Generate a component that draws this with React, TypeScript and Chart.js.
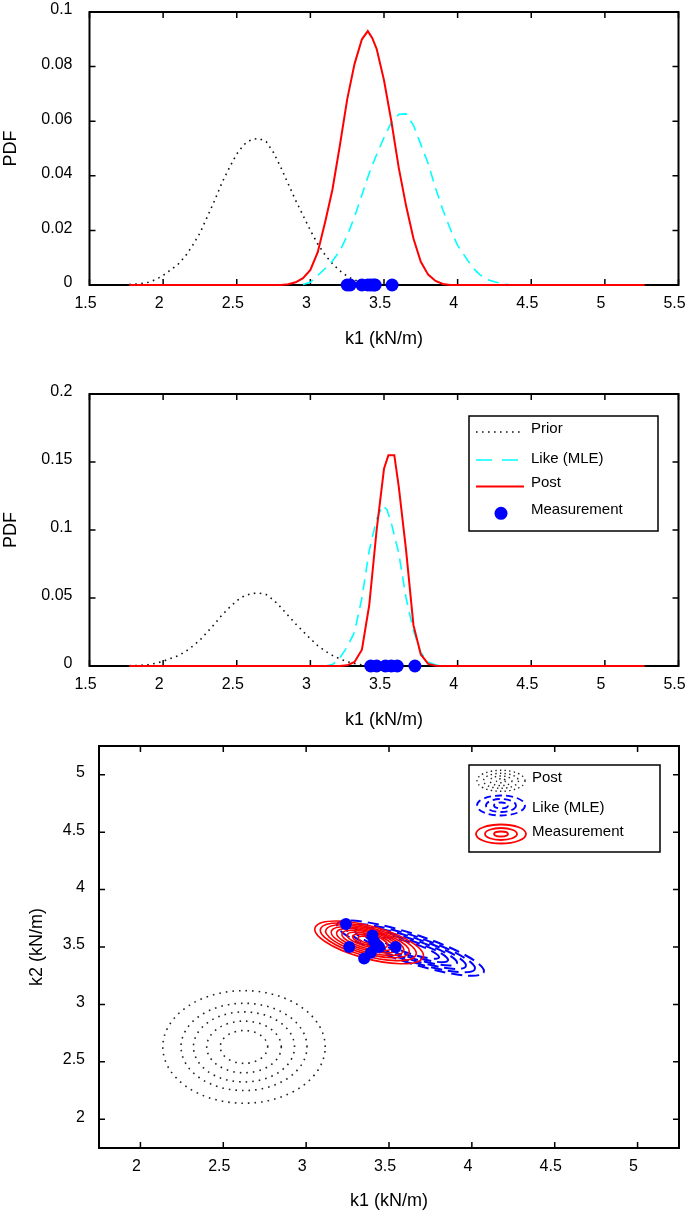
import React, { useEffect, useRef } from "react";
import { Chart, registerables } from "chart.js";
Chart.register(...registerables);

const FONT = "'Liberation Sans', Arial, Helvetica, sans-serif";

// ---------- data: 1-D PDFs (shared prior) ----------
const priorK1 = [1.77, 1.85, 1.9, 1.95, 2.0, 2.05, 2.1, 2.15, 2.2, 2.25, 2.3, 2.35, 2.4, 2.45, 2.5, 2.55, 2.6, 2.65, 2.7, 2.75, 2.8, 2.85, 2.9, 2.95, 3.0, 3.05, 3.1, 3.15, 3.2, 3.25, 3.3, 3.35, 3.4, 3.45, 3.5];
const priorPdf = [0.0002, 0.0005, 0.001, 0.002, 0.0035, 0.0055, 0.0075, 0.0105, 0.0145, 0.019, 0.025, 0.031, 0.0375, 0.043, 0.048, 0.0515, 0.0533, 0.0537, 0.0525, 0.0485, 0.043, 0.037, 0.031, 0.0255, 0.02, 0.015, 0.011, 0.0078, 0.0052, 0.0032, 0.0018, 0.0009, 0.0004, 0.0001, 0.0];

// panel 1
const like1K1 = [2.95, 3.0, 3.05, 3.1, 3.15, 3.2, 3.25, 3.3, 3.35, 3.4, 3.45, 3.5, 3.55, 3.6, 3.65, 3.7, 3.75, 3.8, 3.85, 3.9, 3.95, 4.0, 4.05, 4.1, 4.15, 4.2, 4.25, 4.3, 4.35];
const like1Pdf = [0.0002, 0.001, 0.0035, 0.006, 0.0088, 0.0125, 0.018, 0.025, 0.033, 0.041, 0.0478, 0.054, 0.0595, 0.0625, 0.0627, 0.0585, 0.0515, 0.0445, 0.0355, 0.0275, 0.0205, 0.0145, 0.0105, 0.0065, 0.0038, 0.002, 0.0012, 0.0005, 0.0001];
const post1K1 = [1.77, 2.8, 2.85, 2.9, 2.95, 3.0, 3.05, 3.1, 3.15, 3.2, 3.25, 3.3, 3.35, 3.39, 3.42, 3.45, 3.5, 3.55, 3.6, 3.65, 3.7, 3.75, 3.8, 3.85, 3.9, 3.95, 5.27];
const post1Pdf = [0, 0, 0.0003, 0.001, 0.0025, 0.0055, 0.012, 0.023, 0.035, 0.051, 0.068, 0.081, 0.09, 0.093, 0.0905, 0.0865, 0.075, 0.06, 0.043, 0.029, 0.017, 0.0085, 0.0038, 0.0015, 0.0004, 0, 0];
const meas1K1 = [3.25, 3.27, 3.35, 3.39, 3.41, 3.43, 3.44, 3.555];

// panel 2
const like2K1 = [3.1, 3.15, 3.2, 3.25, 3.3, 3.35, 3.4, 3.45, 3.49, 3.52, 3.55, 3.6, 3.65, 3.7, 3.75, 3.8, 3.85, 3.9, 3.95];
const like2Pdf = [0, 0.001, 0.006, 0.014, 0.025, 0.05, 0.085, 0.108, 0.118, 0.115, 0.105, 0.083, 0.05, 0.026, 0.01, 0.003, 0.0008, 0.0002, 0];
const post2K1 = [1.77, 3.2, 3.25, 3.3, 3.35, 3.4, 3.45, 3.5, 3.53, 3.57, 3.6, 3.65, 3.7, 3.75, 3.8, 3.85, 3.9, 5.27];
const post2Pdf = [0, 0, 0.0005, 0.003, 0.012, 0.045, 0.1, 0.145, 0.155, 0.155, 0.132, 0.085, 0.03, 0.0085, 0.0015, 0.0002, 0, 0];
const meas2K1 = [3.41, 3.45, 3.51, 3.55, 3.59, 3.71];

// panel 3 (joint k1-k2)
const meas3K1 = [3.24, 3.26, 3.35, 3.4, 3.39, 3.42, 3.44, 3.54, 3.41];
const meas3K2 = [3.7, 3.5, 3.4, 3.6, 3.45, 3.52, 3.5, 3.5, 3.55];
const priorCenter = [2.625, 2.63];
const priorRadii = [0.49, 0.38, 0.305, 0.225, 0.143];
const likeCenter = [3.63, 3.49];
const likeAngle = -26;
const likeA = [0.49, 0.43, 0.37, 0.31, 0.25, 0.19];
const likeB = [0.12, 0.105, 0.09, 0.075, 0.06, 0.045];
const postAngle = -23;
const postCx = [3.38, 3.375, 3.37, 3.37, 3.37, 3.37, 3.37, 3.37, 3.37];
const postCy = [3.54, 3.545, 3.55, 3.552, 3.555, 3.557, 3.56, 3.56, 3.56];
const postA = [0.351, 0.31, 0.27, 0.235, 0.2, 0.165, 0.13, 0.095, 0.06];
const postB = [0.137, 0.12, 0.105, 0.092, 0.079, 0.066, 0.053, 0.04, 0.026];

// ticks / labels
const pdfXTicks = [1.5, 2, 2.5, 3, 3.5, 4, 4.5, 5, 5.5];
const pdfXLabels = ["1.5", "2", "2.5", "3", "3.5", "4", "4.5", "5", "5.5"];
const pdf1YTicks = [0, 0.02, 0.04, 0.06, 0.08, 0.1];
const pdf1YLabels = ["0", "0.02", "0.04", "0.06", "0.08", "0.1"];
const pdf2YTicks = [0, 0.05, 0.1, 0.15, 0.2];
const pdf2YLabels = ["0", "0.05", "0.1", "0.15", "0.2"];
const jointTicks = [2, 2.5, 3, 3.5, 4, 4.5, 5];
const jointLabels = ["2", "2.5", "3", "3.5", "4", "4.5", "5"];
const legendPdfLabels = ["Prior", "Like (MLE)", "Post", "Measurement"];
const legendJointLabels = ["Post", "Like (MLE)", "Measurement"];

const BLUE = "#0000ff";
const RED = "#ff0000";
const CYAN = "#00ffff";

const pts = (xs: number[], ys: number[]) => xs.map((x, i) => ({ x, y: ys[i] }));

function xAxis(min: number, max: number, ticks: number[], labels: string[], h: number) {
  return {
    type: "linear",
    position: "bottom",
    min,
    max,
    afterBuildTicks: (s: any) => {
      s.ticks = ticks.map((v) => ({ value: v }));
    },
    afterFit: (s: any) => {
      s.height = h;
      s.paddingLeft = 0;
      s.paddingRight = 0;
    },
    grid: { display: false, drawTicks: false },
    border: { display: false },
    ticks: {
      autoSkip: false,
      maxRotation: 0,
      padding: 9,
      labelOffset: -4,
      color: "#000",
      font: { size: 16, family: FONT },
      callback: (_v: any, i: number) => labels[i],
    },
    title: {
      display: true,
      text: "k1 (kN/m)",
      color: "#000",
      font: { size: 18, family: FONT },
      padding: { top: 0, bottom: 0 },
    },
  };
}

function yAxis(min: number, max: number, ticks: number[], labels: string[], w: number, title: string, titlePad: number, pad: number) {
  return {
    type: "linear",
    position: "left",
    min,
    max,
    afterBuildTicks: (s: any) => {
      s.ticks = ticks.map((v) => ({ value: v }));
    },
    afterFit: (s: any) => {
      s.width = w;
      s.paddingTop = 0;
      s.paddingBottom = 0;
    },
    grid: { display: false, drawTicks: false },
    border: { display: false },
    ticks: {
      autoSkip: false,
      padding: pad,
      labelOffset: -2,
      color: "#000",
      font: { size: 16, family: FONT },
      callback: (_v: any, i: number) => labels[i],
    },
    title: {
      display: true,
      text: title,
      color: "#000",
      font: { size: 18, family: FONT },
      padding: { top: titlePad, bottom: 0 },
    },
  };
}

const framePlugin = {
  id: "frame",
  beforeDatasetsDraw(chart: any) {
    const { ctx, chartArea: a, scales } = chart;
    ctx.save();
    ctx.strokeStyle = "#000";
    ctx.lineWidth = 1.5;
    ctx.beginPath();
    for (const t of scales.x.ticks) {
      const p = scales.x.getPixelForValue(t.value);
      ctx.moveTo(p, a.bottom);
      ctx.lineTo(p, a.bottom - 6);
      ctx.moveTo(p, a.top);
      ctx.lineTo(p, a.top + 6);
    }
    for (const t of scales.y.ticks) {
      const p = scales.y.getPixelForValue(t.value);
      ctx.moveTo(a.left, p);
      ctx.lineTo(a.left + 6, p);
      ctx.moveTo(a.right, p);
      ctx.lineTo(a.right - 6, p);
    }
    ctx.stroke();
    ctx.lineWidth = 2;
    ctx.strokeRect(a.left, a.top, a.right - a.left, a.bottom - a.top);
    ctx.restore();
  },
};

function lineSets(likeK1: number[], likePdf: number[], postK1: number[], postPdf: number[], measK1: number[], r: number) {
  return [
    {
      label: "Measurement",
      data: measK1.map((x) => ({ x, y: 0 })),
      showLine: false,
      pointRadius: r,
      pointBackgroundColor: BLUE,
      pointBorderColor: BLUE,
      pointBorderWidth: 0,
      clip: false,
      order: 0,
    },
    {
      label: "Post",
      data: pts(postK1, postPdf),
      showLine: true,
      pointRadius: 0,
      borderColor: RED,
      borderWidth: 2,
      tension: 0,
      clip: false,
      order: 1,
    },
    {
      label: "Like (MLE)",
      data: pts(likeK1, likePdf),
      showLine: true,
      pointRadius: 0,
      borderColor: CYAN,
      borderWidth: 1.6,
      borderDash: [11, 7],
      tension: 0,
      clip: false,
      order: 2,
    },
    {
      label: "Prior",
      data: pts(priorK1, priorPdf),
      showLine: true,
      pointRadius: 0,
      borderColor: "#111",
      borderWidth: 1.6,
      borderDash: [1.6, 4.4],
      tension: 0,
      clip: false,
      order: 3,
    },
  ];
}

const legendPdfPlugin = {
  id: "legendPdf",
  afterDatasetsDraw(chart: any) {
    const ctx = chart.ctx;
    ctx.save();
    ctx.fillStyle = "#fff";
    ctx.fillRect(469, 46, 189, 115);
    ctx.strokeStyle = "#000";
    ctx.lineWidth = 1.5;
    ctx.strokeRect(469, 46, 189, 115);
    const ys = [62, 90, 116.5];
    const styles = [
      { c: "#111", w: 1.6, d: [1.6, 4.4] },
      { c: CYAN, w: 1.6, d: [16, 10] },
      { c: RED, w: 2.2, d: [] },
    ];
    styles.forEach((s, i) => {
      ctx.beginPath();
      ctx.strokeStyle = s.c;
      ctx.lineWidth = s.w;
      ctx.setLineDash(s.d);
      ctx.moveTo(476, ys[i]);
      ctx.lineTo(524, ys[i]);
      ctx.stroke();
    });
    ctx.setLineDash([]);
    ctx.fillStyle = BLUE;
    ctx.beginPath();
    ctx.arc(501, 143.3, 6.5, 0, Math.PI * 2);
    ctx.fill();
    ctx.fillStyle = "#000";
    ctx.font = `15px ${FONT}`;
    ctx.textBaseline = "middle";
    ctx.textAlign = "left";
    const ty = [59, 89, 113, 140];
    legendPdfLabels.forEach((t, i) => ctx.fillText(t, 531, ty[i]));
    ctx.restore();
  },
};

function strokeDataEllipse(ctx: any, xs: any, ys: any, cx: number, cy: number, a: number, b: number, deg: number) {
  const t = (deg * Math.PI) / 180;
  const px = xs.getPixelForValue(cx);
  const py = ys.getPixelForValue(cy);
  const ux = xs.getPixelForValue(cx + a * Math.cos(t)) - px;
  const uy = ys.getPixelForValue(cy + a * Math.sin(t)) - py;
  const vx = xs.getPixelForValue(cx - b * Math.sin(t)) - px;
  const vy = ys.getPixelForValue(cy + b * Math.cos(t)) - py;
  ctx.save();
  ctx.beginPath();
  ctx.transform(ux, uy, vx, vy, px, py);
  ctx.arc(0, 0, 1, 0, Math.PI * 2);
  ctx.restore();
  ctx.stroke();
}

const contourPlugin = {
  id: "contours",
  beforeDatasetsDraw(chart: any) {
    const { ctx, scales } = chart;
    const xs = scales.x;
    const ys = scales.y;
    ctx.save();
    // prior (dotted circles)
    ctx.strokeStyle = "#222";
    ctx.lineWidth = 1.6;
    ctx.setLineDash([1.6, 5]);
    priorRadii.forEach((r) => strokeDataEllipse(ctx, xs, ys, priorCenter[0], priorCenter[1], r, r, 0));
    // likelihood (blue dashed)
    ctx.strokeStyle = BLUE;
    ctx.lineWidth = 2;
    ctx.setLineDash([11, 6]);
    likeA.forEach((a, i) => strokeDataEllipse(ctx, xs, ys, likeCenter[0], likeCenter[1], a, likeB[i], likeAngle));
    // posterior (red solid)
    ctx.strokeStyle = RED;
    ctx.lineWidth = 1.6;
    ctx.setLineDash([]);
    postA.forEach((a, i) => strokeDataEllipse(ctx, xs, ys, postCx[i], postCy[i], a, postB[i], postAngle));
    ctx.restore();
  },
  afterDatasetsDraw(chart: any) {
    const ctx = chart.ctx;
    ctx.save();
    ctx.fillStyle = "#fff";
    ctx.fillRect(469, 25, 191, 87);
    ctx.strokeStyle = "#000";
    ctx.lineWidth = 1.5;
    ctx.strokeRect(469, 25, 191, 87);
    const ring = (cx: number, cy: number, rx: number, ry: number) => {
      ctx.beginPath();
      ctx.ellipse(cx, cy, rx, ry, 0, 0, Math.PI * 2);
      ctx.stroke();
    };
    ctx.strokeStyle = "#222";
    ctx.lineWidth = 1.4;
    ctx.setLineDash([1.4, 3.2]);
    [[24, 10.5], [17.5, 7.5], [11, 4.8], [4.5, 2]].forEach(([rx, ry]) => ring(501, 40.8, rx, ry));
    ctx.strokeStyle = BLUE;
    ctx.lineWidth = 1.8;
    ctx.setLineDash([7, 4]);
    [[24, 10], [15, 6.5], [7, 3]].forEach(([rx, ry]) => ring(501, 65.5, rx, ry));
    ctx.strokeStyle = RED;
    ctx.lineWidth = 1.8;
    ctx.setLineDash([]);
    [[25, 9.5], [16, 6], [7, 2.5]].forEach(([rx, ry]) => ring(501, 94, rx, ry));
    ctx.fillStyle = "#000";
    ctx.font = `15px ${FONT}`;
    ctx.textBaseline = "middle";
    ctx.textAlign = "left";
    const ty = [38.3, 68.3, 91.7];
    legendJointLabels.forEach((t, i) => ctx.fillText(t, 532, ty[i]));
    ctx.restore();
  },
};

const baseOptions = (padding: any) => ({
  responsive: false,
  animation: false,
  devicePixelRatio: 1,
  events: [],
  layout: { padding },
  plugins: { legend: { display: false }, tooltip: { enabled: false } },
});

export default function App() {
  const r1 = useRef<HTMLCanvasElement>(null);
  const r2 = useRef<HTMLCanvasElement>(null);
  const r3 = useRef<HTMLCanvasElement>(null);

  useEffect(() => {
    Chart.defaults.font.family = FONT;
    Chart.defaults.color = "#000";

    const c1 = new Chart(r1.current as HTMLCanvasElement, {
      type: "scatter",
      data: { datasets: lineSets(like1K1, like1Pdf, post1K1, post1Pdf, meas1K1, 6.5) as any },
      options: {
        ...baseOptions({ top: 12, right: 6, bottom: 5, left: 0 }),
        scales: {
          x: xAxis(1.5, 5.5, pdfXTicks, pdfXLabels, 65),
          y: yAxis(0, 0.1, pdf1YTicks, pdf1YLabels, 89.5, "PDF", 0, 17),
        },
      } as any,
      plugins: [framePlugin],
    });

    const c2 = new Chart(r2.current as HTMLCanvasElement, {
      type: "scatter",
      data: { datasets: lineSets(like2K1, like2Pdf, post2K1, post2Pdf, meas2K1, 6.5) as any },
      options: {
        ...baseOptions({ top: 24, right: 6, bottom: 4, left: 0 }),
        scales: {
          x: xAxis(1.5, 5.5, pdfXTicks, pdfXLabels, 65),
          y: yAxis(0, 0.2, pdf2YTicks, pdf2YLabels, 89.5, "PDF", 0, 17),
        },
      } as any,
      plugins: [framePlugin, legendPdfPlugin],
    });

    const c3 = new Chart(r3.current as HTMLCanvasElement, {
      type: "scatter",
      data: {
        datasets: [
          {
            label: "Measurement",
            data: pts(meas3K1, meas3K2),
            pointRadius: 6,
            pointBackgroundColor: BLUE,
            pointBorderColor: BLUE,
            pointBorderWidth: 0,
            showLine: false,
            clip: false,
          },
        ] as any,
      },
      options: {
        ...baseOptions({ top: 4, right: 3, bottom: 1, left: 0 }),
        scales: {
          x: xAxis(1.75, 5.25, jointTicks, jointLabels, 64),
          y: yAxis(1.75, 5.25, jointTicks, jointLabels, 99, "k2 (kN/m)", 26, 14),
        },
      } as any,
      plugins: [framePlugin, contourPlugin],
    });

    return () => {
      c1.destroy();
      c2.destroy();
      c3.destroy();
    };
  }, []);

  return (
    <div style={{ position: "absolute", left: 0, top: 0, width: 685, height: 1213, background: "#fff" }}>
      <canvas ref={r1} width={685} height={355} style={{ position: "absolute", left: 0, top: 0 }} />
      <canvas ref={r2} width={685} height={365} style={{ position: "absolute", left: 0, top: 370 }} />
      <canvas ref={r3} width={685} height={473} style={{ position: "absolute", left: 0, top: 740 }} />
    </div>
  );
}
